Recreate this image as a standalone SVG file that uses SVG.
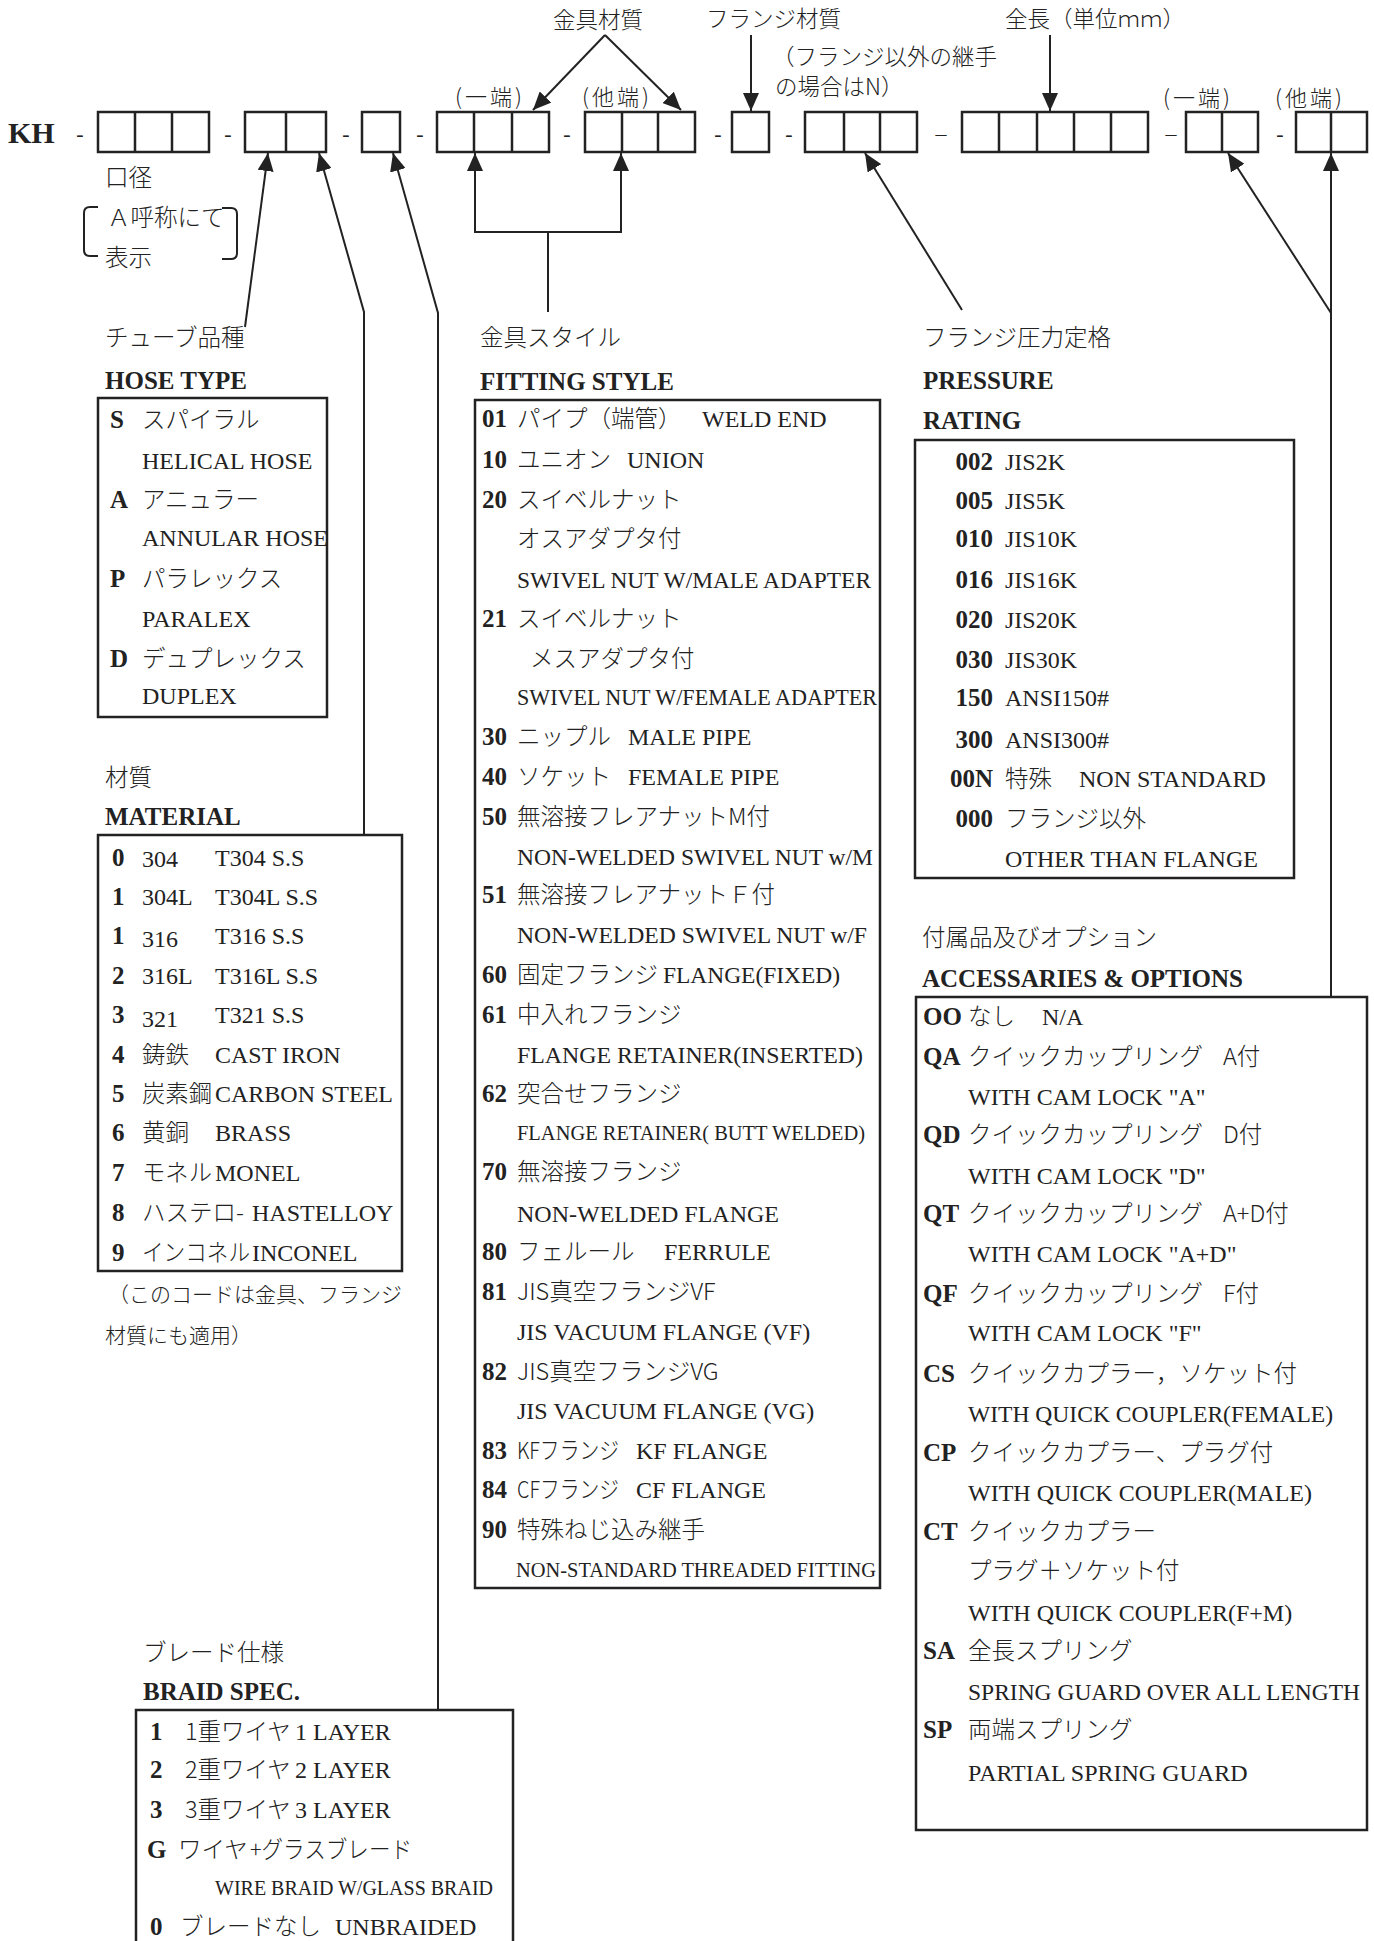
<svg xmlns="http://www.w3.org/2000/svg" width="1374" height="1941" viewBox="0 0 1374 1941">
<defs>
<style>
.j{font-family:"Noto Sans CJK JP","Noto Sans CJK SC",sans-serif;font-size:23.5px;font-weight:300;fill:#222}
.jt{font-family:"Noto Sans CJK JP","Noto Sans CJK SC",sans-serif;font-size:22.5px;font-weight:300;fill:#222}
.jp{font-family:"Noto Sans CJK JP","Noto Sans CJK SC",sans-serif;font-size:22px;font-weight:300;letter-spacing:3px;fill:#222}
.jn{font-family:"Noto Sans CJK JP","Noto Sans CJK SC",sans-serif;font-size:21px;font-weight:300;fill:#222}
.e{font-family:"Liberation Serif",serif;font-size:24px;fill:#222}
.s{font-family:"Liberation Serif",serif;font-size:20.5px;fill:#222}
.c{font-family:"Liberation Serif",serif;font-size:25px;font-weight:bold;fill:#222}
.h{font-family:"Liberation Serif",serif;font-size:25px;font-weight:bold;fill:#222}
.d{font-family:"Liberation Serif",serif;font-size:22px;fill:#222;text-anchor:middle}
.bx{fill:none;stroke:#222;stroke-width:2.5}
.ln{fill:none;stroke:#222;stroke-width:2}
</style>
<marker id="ah" viewBox="0 0 18 16" refX="18" refY="8" markerWidth="18" markerHeight="16" markerUnits="userSpaceOnUse" orient="auto">
<path d="M0,0 L18,8 L0,16 z" fill="#222"/>
</marker>
</defs>
<rect width="1374" height="1941" fill="#fff"/>

<!-- code row -->
<g id="code-row">
<text x="8" y="143" class="h" style="font-size:30px">KH</text>
<text x="80" y="141" class="d">-</text>
<g id="cb1"><rect x="98" y="112" width="111" height="40" class="bx"/><path d="M135,112V152M172,112V152" class="bx"/></g>
<text x="228" y="141" class="d">-</text>
<g id="cb2"><rect x="245" y="112" width="81" height="40" class="bx"/><path d="M286,112V152" class="bx"/></g>
<text x="346" y="141" class="d">-</text>
<g id="cb3"><rect x="362" y="112" width="38" height="40" class="bx"/></g>
<text x="420" y="141" class="d">-</text>
<g id="cb4"><rect x="437" y="112" width="112" height="40" class="bx"/><path d="M474,112V152M512,112V152" class="bx"/></g>
<text x="567" y="141" class="d">-</text>
<g id="cb5"><rect x="585" y="112" width="110" height="40" class="bx"/><path d="M622,112V152M658,112V152" class="bx"/></g>
<text x="718" y="141" class="d">-</text>
<g id="cb6"><rect x="732" y="112" width="37" height="40" class="bx"/></g>
<text x="789" y="141" class="d">-</text>
<g id="cb7"><rect x="805" y="112" width="112" height="40" class="bx"/><path d="M844,112V152M880,112V152" class="bx"/></g>
<text x="941" y="141" class="d">–</text>
<g id="cb8"><rect x="962" y="112" width="186" height="40" class="bx"/><path d="M999,112V152M1037,112V152M1074,112V152M1111,112V152" class="bx"/></g>
<text x="1171" y="141" class="d">–</text>
<g id="cb9"><rect x="1186" y="112" width="72" height="40" class="bx"/><path d="M1222,112V152" class="bx"/></g>
<text x="1280" y="141" class="d">-</text>
<g id="cb10"><rect x="1296" y="112" width="71" height="40" class="bx"/><path d="M1331,112V152" class="bx"/></g>
</g>

<!-- top labels -->
<g id="top-labels">
<text x="553" y="28" class="jt">金具材質</text>
<text x="706" y="27" class="jt">フランジ材質</text>
<text x="772" y="65" class="jt">（フランジ以外の継手</text>
<text x="775" y="95" class="jt">の場合はN）</text>
<text x="1005" y="27" class="jt" textLength="180" lengthAdjust="spacing">全長（単位ｍｍ）</text>
<text x="455" y="105" class="jp">(一端)</text>
<text x="582" y="105" class="jp">(他端)</text>
<text x="1163" y="106" class="jp">(一端)</text>
<text x="1275" y="106" class="jp">(他端)</text>
</g>

<!-- size label -->
<g id="size-label">
<text x="105" y="186" class="j">口径</text>
<path d="M98,207 H90 Q84,207 84,213 V250 Q84,256 90,256 H98" class="ln"/>
<path d="M222,208 H231 Q237,208 237,214 V253 Q237,259 231,259 H222" class="ln"/>
<text x="107" y="226" class="j">Ａ呼称にて</text>
<text x="105" y="266" class="j">表示</text>
</g>

<!-- connectors -->
<g id="connectors">
<path d="M605,35 L533,110" class="ln" marker-end="url(#ah)"/>
<path d="M605,35 L681,110" class="ln" marker-end="url(#ah)"/>
<path d="M751,35 V111" class="ln" marker-end="url(#ah)"/>
<path d="M1050,35 V111" class="ln" marker-end="url(#ah)"/>
<path d="M245,327 L268,153" class="ln" marker-end="url(#ah)"/>
<path d="M364,835 V312 L319,153" class="ln" marker-end="url(#ah)"/>
<path d="M438,1710 V313 L393,153" class="ln" marker-end="url(#ah)"/>
<path d="M548,312 V232 H475 V153" class="ln" marker-end="url(#ah)"/>
<path d="M548,232 H621 V153" class="ln" marker-end="url(#ah)"/>
<path d="M962,310 L865,153" class="ln" marker-end="url(#ah)"/>
<path d="M1331,997 V153" class="ln" marker-end="url(#ah)"/>
<path d="M1331,313 L1228,153" class="ln" marker-end="url(#ah)"/>
</g>

<!-- HOSE TYPE -->
<g id="hose-type">
<text x="105" y="346" class="j">チューブ品種</text>
<text x="105" y="389" class="h">HOSE TYPE</text>
<rect x="98" y="398" width="229" height="319" class="bx"/>
<text x="110" y="428" class="c">S</text><text x="142" y="428" class="j">スパイラル</text>
<text x="142" y="469" class="e">HELICAL HOSE</text>
<text x="110" y="508" class="c">A</text><text x="142" y="508" class="j">アニュラー</text>
<text x="142" y="546" class="e">ANNULAR HOSE</text>
<text x="110" y="587" class="c">P</text><text x="142" y="587" class="j">パラレックス</text>
<text x="142" y="627" class="e">PARALEX</text>
<text x="110" y="667" class="c">D</text><text x="142" y="667" class="j">デュプレックス</text>
<text x="142" y="704" class="e">DUPLEX</text>
</g>

<!-- MATERIAL -->
<g id="material">
<text x="105" y="786" class="j">材質</text>
<text x="105" y="825" class="h">MATERIAL</text>
<rect x="98" y="835" width="304" height="436" class="bx"/>
<text x="112" y="866" class="c">0</text><text x="142" y="867" class="e">304</text><text x="215" y="866" class="e">T304 S.S</text>
<text x="112" y="905" class="c">1</text><text x="142" y="905" class="e">304L</text><text x="215" y="905" class="e">T304L S.S</text>
<text x="112" y="944" class="c">1</text><text x="142" y="947" class="e">316</text><text x="215" y="944" class="e">T316 S.S</text>
<text x="112" y="984" class="c">2</text><text x="142" y="984" class="e">316L</text><text x="215" y="984" class="e">T316L S.S</text>
<text x="112" y="1023" class="c">3</text><text x="142" y="1027" class="e">321</text><text x="215" y="1023" class="e">T321 S.S</text>
<text x="112" y="1063" class="c">4</text><text x="142" y="1063" class="j">鋳鉄</text><text x="215" y="1063" class="e">CAST IRON</text>
<text x="112" y="1102" class="c">5</text><text x="142" y="1102" class="j" textLength="70" lengthAdjust="spacingAndGlyphs">炭素鋼</text><text x="215" y="1102" class="e">CARBON STEEL</text>
<text x="112" y="1141" class="c">6</text><text x="142" y="1141" class="j">黄銅</text><text x="215" y="1141" class="e">BRASS</text>
<text x="112" y="1181" class="c">7</text><text x="142" y="1181" class="j" textLength="70" lengthAdjust="spacingAndGlyphs">モネル</text><text x="215" y="1181" class="e">MONEL</text>
<text x="112" y="1221" class="c">8</text><text x="142" y="1221" class="j">ハステロ-</text><text x="252" y="1221" class="e">HASTELLOY</text>
<text x="112" y="1261" class="c">9</text><text x="142" y="1261" class="j" textLength="108" lengthAdjust="spacingAndGlyphs">インコネル</text><text x="252" y="1261" class="e">INCONEL</text>
<text x="108" y="1302" class="jn">（このコードは金具、フランジ</text>
<text x="105" y="1343" class="jn">材質にも適用）</text>
</g>

<!-- FITTING STYLE -->
<g id="fitting-style">
<text x="480" y="346" class="j">金具スタイル</text>
<text x="480" y="390" class="h">FITTING STYLE</text>
<rect x="475" y="400" width="405" height="1188" class="bx"/>
<text x="482" y="427" class="c">01</text><text x="517" y="427" class="j">パイプ（端管）</text><text x="702" y="427" class="e">WELD END</text>
<text x="482" y="468" class="c">10</text><text x="517" y="468" class="j">ユニオン</text><text x="627" y="468" class="e">UNION</text>
<text x="482" y="508" class="c">20</text><text x="517" y="508" class="j">スイベルナット</text>
<text x="517" y="547" class="j">オスアダプタ付</text>
<text x="517" y="588" class="e" textLength="354" lengthAdjust="spacingAndGlyphs">SWIVEL NUT W/MALE ADAPTER</text>
<text x="482" y="627" class="c">21</text><text x="517" y="627" class="j">スイベルナット</text>
<text x="530" y="667" class="j">メスアダプタ付</text>
<text x="517" y="705" class="e" textLength="360" lengthAdjust="spacingAndGlyphs">SWIVEL NUT W/FEMALE ADAPTER</text>
<text x="482" y="745" class="c">30</text><text x="517" y="745" class="j">ニップル</text><text x="628" y="745" class="e">MALE PIPE</text>
<text x="482" y="785" class="c">40</text><text x="517" y="785" class="j">ソケット</text><text x="628" y="785" class="e">FEMALE PIPE</text>
<text x="482" y="825" class="c">50</text><text x="517" y="825" class="j">無溶接フレアナットM付</text>
<text x="517" y="865" class="e" textLength="356" lengthAdjust="spacingAndGlyphs">NON-WELDED SWIVEL NUT w/M</text>
<text x="482" y="903" class="c">51</text><text x="517" y="903" class="j">無溶接フレアナットＦ付</text>
<text x="517" y="943" class="e" textLength="350" lengthAdjust="spacingAndGlyphs">NON-WELDED SWIVEL NUT w/F</text>
<text x="482" y="983" class="c">60</text><text x="517" y="983" class="j">固定フランジ</text><text x="663" y="983" class="e" textLength="177" lengthAdjust="spacingAndGlyphs">FLANGE(FIXED)</text>
<text x="482" y="1023" class="c">61</text><text x="517" y="1023" class="j">中入れフランジ</text>
<text x="517" y="1063" class="e" textLength="346" lengthAdjust="spacingAndGlyphs">FLANGE RETAINER(INSERTED)</text>
<text x="482" y="1102" class="c">62</text><text x="517" y="1102" class="j">突合せフランジ</text>
<text x="517" y="1140" class="s" textLength="348" lengthAdjust="spacingAndGlyphs">FLANGE RETAINER( BUTT WELDED)</text>
<text x="482" y="1180" class="c">70</text><text x="517" y="1180" class="j">無溶接フランジ</text>
<text x="517" y="1222" class="e">NON-WELDED FLANGE</text>
<text x="482" y="1260" class="c">80</text><text x="517" y="1260" class="j">フェルール</text><text x="664" y="1260" class="e">FERRULE</text>
<text x="482" y="1300" class="c">81</text><text x="517" y="1300" class="j">JIS真空フランジVF</text>
<text x="517" y="1340" class="e">JIS VACUUM FLANGE (VF)</text>
<text x="482" y="1380" class="c">82</text><text x="517" y="1380" class="j">JIS真空フランジVG</text>
<text x="517" y="1419" class="e">JIS VACUUM FLANGE (VG)</text>
<text x="482" y="1459" class="c">83</text><text x="517" y="1459" class="j" textLength="102" lengthAdjust="spacingAndGlyphs">KFフランジ</text><text x="636" y="1459" class="e">KF FLANGE</text>
<text x="482" y="1498" class="c">84</text><text x="517" y="1498" class="j" textLength="102" lengthAdjust="spacingAndGlyphs">CFフランジ</text><text x="636" y="1498" class="e">CF FLANGE</text>
<text x="482" y="1538" class="c">90</text><text x="517" y="1538" class="j">特殊ねじ込み継手</text>
<text x="516" y="1577" class="s" textLength="360" lengthAdjust="spacingAndGlyphs">NON-STANDARD THREADED FITTING</text>
</g>

<!-- PRESSURE RATING -->
<g id="pressure-rating">
<text x="923" y="346" class="j">フランジ圧力定格</text>
<text x="923" y="389" class="h">PRESSURE</text>
<text x="923" y="429" class="h">RATING</text>
<rect x="915" y="440" width="379" height="438" class="bx"/>
<g class="c" text-anchor="end">
<text x="993" y="470">002</text><text x="993" y="509">005</text><text x="993" y="547">010</text><text x="993" y="588">016</text><text x="993" y="628">020</text><text x="993" y="668">030</text><text x="993" y="706">150</text><text x="993" y="748">300</text><text x="993" y="787">00N</text><text x="993" y="827">000</text>
</g>
<text x="1005" y="470" class="e">JIS2K</text>
<text x="1005" y="509" class="e">JIS5K</text>
<text x="1005" y="547" class="e">JIS10K</text>
<text x="1005" y="588" class="e">JIS16K</text>
<text x="1005" y="628" class="e">JIS20K</text>
<text x="1005" y="668" class="e">JIS30K</text>
<text x="1005" y="706" class="e">ANSI150#</text>
<text x="1005" y="748" class="e">ANSI300#</text>
<text x="1005" y="787" class="j">特殊</text><text x="1079" y="787" class="e">NON STANDARD</text>
<text x="1005" y="827" class="j">フランジ以外</text>
<text x="1005" y="867" class="e">OTHER THAN FLANGE</text>
</g>

<!-- ACCESSARIES & OPTIONS -->
<g id="accessories">
<text x="922" y="946" class="j">付属品及びオプション</text>
<text x="922" y="987" class="h">ACCESSARIES &amp; OPTIONS</text>
<rect x="916" y="997" width="451" height="833" class="bx"/>
<text x="923" y="1025" class="c">OO</text><text x="968" y="1025" class="j">なし</text><text x="1042" y="1025" class="e">N/A</text>
<text x="923" y="1065" class="c">QA</text><text x="968" y="1065" class="j">クイックカップリング</text><text x="1223" y="1065" class="j">A付</text>
<text x="968" y="1105" class="e">WITH CAM LOCK "A"</text>
<text x="923" y="1143" class="c">QD</text><text x="968" y="1143" class="j">クイックカップリング</text><text x="1223" y="1143" class="j">D付</text>
<text x="968" y="1184" class="e">WITH CAM LOCK "D"</text>
<text x="923" y="1222" class="c">QT</text><text x="968" y="1222" class="j">クイックカップリング</text><text x="1223" y="1222" class="j">A+D付</text>
<text x="968" y="1262" class="e">WITH CAM LOCK "A+D"</text>
<text x="923" y="1302" class="c">QF</text><text x="968" y="1302" class="j">クイックカップリング</text><text x="1223" y="1302" class="j">F付</text>
<text x="968" y="1341" class="e">WITH CAM LOCK "F"</text>
<text x="923" y="1382" class="c">CS</text><text x="968" y="1382" class="j">クイックカプラー，ソケット付</text>
<text x="968" y="1422" class="e" textLength="365" lengthAdjust="spacingAndGlyphs">WITH QUICK COUPLER(FEMALE)</text>
<text x="923" y="1461" class="c">CP</text><text x="968" y="1461" class="j">クイックカプラー、プラグ付</text>
<text x="968" y="1501" class="e">WITH QUICK COUPLER(MALE)</text>
<text x="923" y="1540" class="c">CT</text><text x="968" y="1540" class="j">クイックカプラー</text>
<text x="968" y="1579" class="j">プラグ＋ソケット付</text>
<text x="968" y="1621" class="e">WITH QUICK COUPLER(F+M)</text>
<text x="923" y="1659" class="c">SA</text><text x="968" y="1659" class="j">全長スプリング</text>
<text x="968" y="1700" class="e" textLength="392" lengthAdjust="spacingAndGlyphs">SPRING GUARD OVER ALL LENGTH</text>
<text x="923" y="1738" class="c">SP</text><text x="968" y="1738" class="j">両端スプリング</text>
<text x="968" y="1781" class="e">PARTIAL SPRING GUARD</text>
</g>

<!-- BRAID SPEC -->
<g id="braid-spec">
<text x="143" y="1661" class="j">ブレード仕様</text>
<text x="143" y="1700" class="h">BRAID SPEC.</text>
<path d="M136,1950 V1710 H513 V1950" class="bx"/>
<text x="150" y="1740" class="c">1</text><text x="185" y="1740" class="j">1重ワイヤ</text><text x="295" y="1740" class="e">1 LAYER</text>
<text x="150" y="1778" class="c">2</text><text x="185" y="1778" class="j">2重ワイヤ</text><text x="295" y="1778" class="e">2 LAYER</text>
<text x="150" y="1818" class="c">3</text><text x="185" y="1818" class="j">3重ワイヤ</text><text x="295" y="1818" class="e">3 LAYER</text>
<text x="147" y="1858" class="c">G</text><text x="178" y="1858" class="j">ワイヤ</text><text x="250" y="1858" class="j" textLength="162" lengthAdjust="spacingAndGlyphs">+グラスブレード</text>
<text x="215" y="1895" class="s" textLength="278" lengthAdjust="spacingAndGlyphs">WIRE BRAID W/GLASS BRAID</text>
<text x="150" y="1935" class="c">0</text><text x="180" y="1935" class="j">ブレードなし</text><text x="335" y="1935" class="e">UNBRAIDED</text>
</g>
</svg>
